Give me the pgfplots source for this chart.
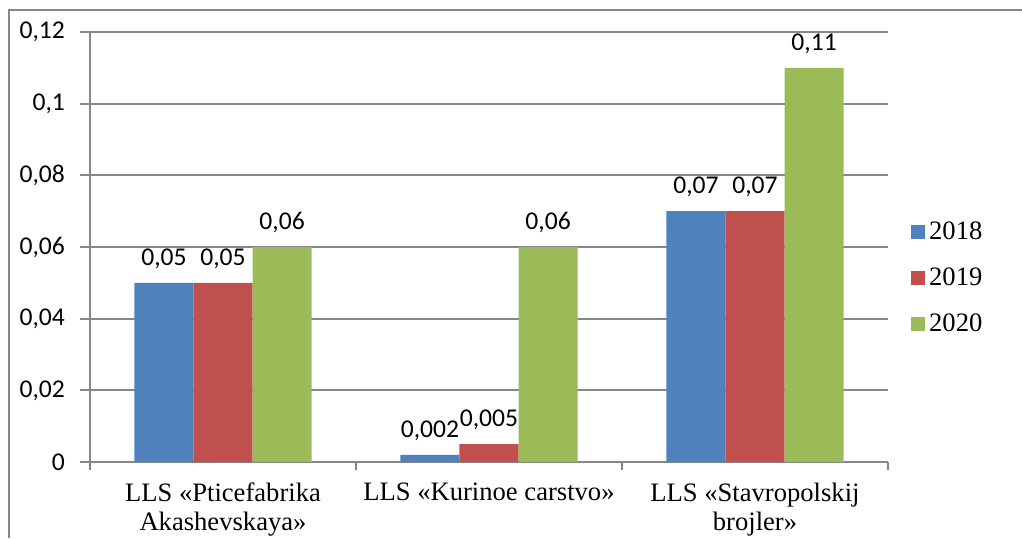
\documentclass[border=0pt]{standalone}
\usepackage{fontspec}
\setmainfont{Liberation Serif}
\newfontfamily\calibri{Carlito}
\usepackage{pgfplots}
\pgfplotsset{compat=1.18}

\definecolor{bblue}{HTML}{4F81BD}
\definecolor{bred}{HTML}{C0504D}
\definecolor{bgreen}{HTML}{9BBB59}
\definecolor{gline}{HTML}{878787}

\newcommand\lblfont{\calibri\fontsize{12.8}{14}\selectfont}
\newcommand\catfont{\fontsize{13.3}{14.5}\selectfont}

\begin{document}
\begin{tikzpicture}
\useasboundingbox (0,0) rectangle (511pt,269pt);
\draw[gline, line width=0.8pt] (4.5pt,0) -- (4.5pt,264pt) -- (511pt,264pt);
\begin{axis}[
  at={(45pt,38pt)}, anchor=south west,
  scale only axis,
  width=399pt, height=215pt,
  ybar=0pt,
  bar width=0.222,
  xmin=0.5, xmax=3.5,
  ymin=0, ymax=0.12,
  axis x line=bottom, axis y line=left,
  axis line style={gline, line width=0.9pt, -},
  tick align=outside,
  xtick={1,2,3},
  xticklabels={{LLS «Pticefabrika\\Akashevskaya»},{LLS «Kurinoe carstvo»},{LLS «Stavropolskij\\brojler»}},
  x tick label style={align=center, font=\catfont, yshift=-2pt},
  minor xtick={0.5,1.5,2.5,3.5},
  ytick={0,0.02,0.04,0.06,0.08,0.1,0.12},
  yticklabels={{0},{0,02},{0,04},{0,06},{0,08},{0,1},{0,12}},
  y tick label style={font=\lblfont, xshift=-4pt},
  major tick length=5pt,
  minor tick length=4pt,
  x tick style={draw=none},
  minor x tick style={draw=gline, line width=0.9pt},
  y tick style={gline, line width=0.9pt},
  ymajorgrids,
  major grid style={gline, line width=0.9pt},
  nodes near coords,
  point meta=explicit symbolic,
  every node near coord/.append style={font=\lblfont, text=black, yshift=3.5pt},
  legend style={
    at={(1.021,0.428)}, anchor=west,
    draw=none, fill=none,
    font=\catfont,
    row sep=8.5pt,
    cells={anchor=west},
  },
  legend image code/.code={\fill[#1,draw=none] (0pt,-3.5pt) rectangle (7pt,3.5pt);},
]
\addplot[fill=bblue, draw=none] coordinates {(1,0.05) [0,05] (2,0.002) [0,002] (3,0.07) [0,07]};
\addplot[fill=bred, draw=none] coordinates {(1,0.05) [0,05] (2,0.005) [0,005] (3,0.07) [0,07]};
\addplot[fill=bgreen, draw=none] coordinates {(1,0.06) [0,06] (2,0.06) [0,06] (3,0.11) [0,11]};
\legend{2018,2019,2020}
\end{axis}
\end{tikzpicture}
\end{document}
